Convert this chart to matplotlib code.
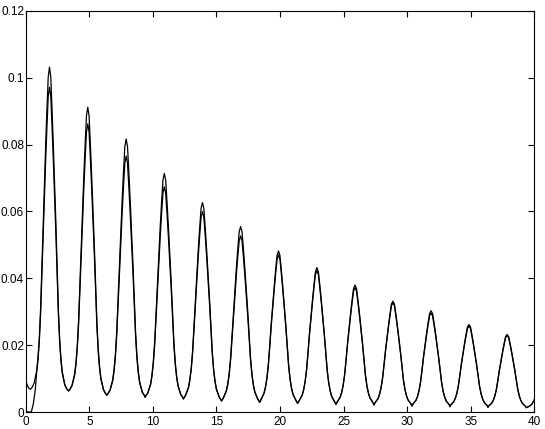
import numpy as np
import matplotlib
matplotlib.use("Agg")
import matplotlib.pyplot as plt

# peak centres and heights (two nearly identical curves)
centres = [1.87, 4.88, 7.9, 10.9, 13.9, 16.9, 19.88, 22.9, 25.9, 28.88, 31.88, 34.86, 37.86]
peaks_upper = [0.1032, 0.0912, 0.0817, 0.0714, 0.0627, 0.0555, 0.0482, 0.0432, 0.0380, 0.0332, 0.0303, 0.0262, 0.0232]
peaks_lower = [0.0972, 0.0862, 0.0766, 0.0674, 0.0600, 0.0527, 0.0470, 0.0423, 0.0372, 0.0327, 0.0296, 0.0257, 0.0229]
# trough value after each peak
troughs = [0.0063, 0.0050, 0.0044, 0.0039, 0.0033, 0.0029, 0.0026, 0.0023, 0.0021, 0.0018, 0.0016, 0.0014, 0.0013]
# peaks get a bit wider to the right
widths = [1.0, 1.03, 1.06, 1.08, 1.1, 1.12, 1.14, 1.16, 1.17, 1.18, 1.19, 1.2, 1.2]

# shape of one peak: offset from centre -> fraction of height above trough
offsets = [-1.35, -1.2, -1.0, -0.9, -0.8, -0.7, -0.6, -0.5, -0.4, -0.3, -0.2, -0.1, 0.0,
           0.1, 0.2, 0.3, 0.4, 0.5, 0.6, 0.7, 0.8, 0.9, 1.0, 1.2, 1.35]
profile = [0.007, 0.02, 0.06, 0.1, 0.16, 0.25, 0.38, 0.52, 0.64, 0.76, 0.87, 0.97, 1.0,
           0.97, 0.87, 0.76, 0.64, 0.52, 0.38, 0.25, 0.16, 0.1, 0.06, 0.02, 0.007]

# start of each curve
head_upper_x = [0.0, 0.12, 0.25, 0.37]
head_upper_y = [0.0095, 0.0080, 0.0071, 0.0068]
head_lower_x = [0.0, 0.44, 0.6, 0.75]
head_lower_y = [0.0, 0.0, 0.0025, 0.0066]
left_base = 0.0068

# end of both curves
tail_x = [39.6, 39.8, 40.0]
tail_y = [0.0017, 0.0023, 0.0037]


def build(peaks, head_x, head_y):
    xs, ys = list(head_x), list(head_y)
    bases = [left_base] + troughs
    for k, c in enumerate(centres):
        for o, f in zip(offsets, profile):
            d = o * widths[k]
            if abs(d) >= 1.48:
                continue
            x = c + d
            if x <= xs[-1]:
                continue
            base = bases[k] if o < 0 else bases[k + 1]
            xs.append(x)
            ys.append(base + (peaks[k] - base) * f)
        if c + 1.5 < tail_x[0]:
            xs.append(c + 1.5)
            ys.append(troughs[k])
    xs += tail_x
    ys += tail_y
    return xs, ys


xu, yu = build(peaks_upper, head_upper_x, head_upper_y)
xl, yl = build(peaks_lower, head_lower_x, head_lower_y)

plt.rcParams['font.family'] = ['Liberation Sans', 'DejaVu Sans']

fig = plt.figure(figsize=(5.45, 4.29), dpi=100)
ax = fig.add_axes([0.0472, 0.0396, 0.9332, 0.9348])

ax.plot(xu, yu, color="black", lw=0.9)
ax.plot(xl, yl, color="black", lw=0.9)

ax.set_xlim(0, 40)
ax.set_ylim(0, 0.12)
ax.set_xticks([0, 5, 10, 15, 20, 25, 30, 35, 40])
ax.set_yticks([0, 0.02, 0.04, 0.06, 0.08, 0.1, 0.12])
ax.set_yticklabels(["0", "0.02", "0.04", "0.06", "0.08", "0.1", "0.12"])
ax.tick_params(direction="in", top=True, right=True, length=4, width=0.8,
               labelsize=8.5)
ax.tick_params(axis="y", pad=1.2)
ax.tick_params(axis="x", pad=3)
for s in ax.spines.values():
    s.set_linewidth(0.8)

fig.savefig("out.png", dpi=100)
